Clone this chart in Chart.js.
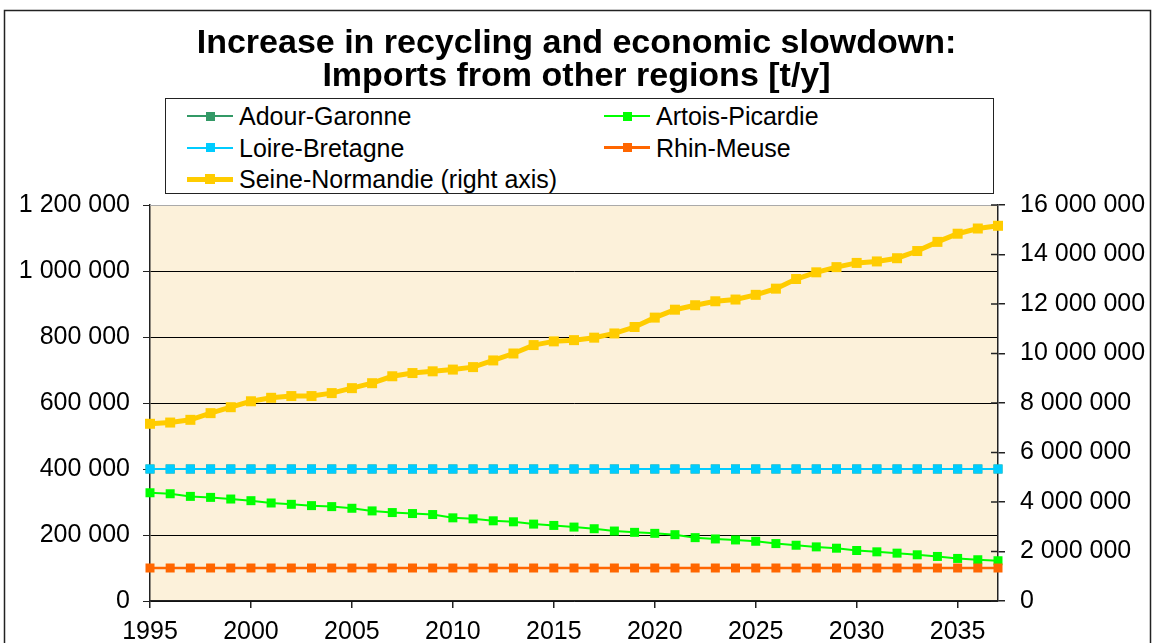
<!DOCTYPE html>
<html>
<head>
<meta charset="utf-8">
<script src="https://cdn.jsdelivr.net/npm/chart.js@4"></script>
<style>
  body { margin: 0; background: #fff; font-family: 'Liberation Sans', Arial, sans-serif; }
  #wrap { position: relative; width: 1153px; height: 643px; overflow: hidden; }
  #title { position: absolute; left: 0; width: 1153px; top: 25px; text-align: center;
           font-weight: bold; font-size: 34px; line-height: 33px; color: #000; }
  #legend { position: absolute; left: 165px; top: 98px; width: 827px; height: 94px;
            border: 1px solid #222; background: #fff; }
  .item { position: absolute; height: 30px; font-size: 25px; line-height: 30px; white-space: nowrap; }
  .sym { position: absolute; top: 15px; width: 46px; }
  .sym .ln { position: absolute; left: 0; width: 46px; }
  .sym .mk { position: absolute; }
  .txt { position: absolute; }
</style>
</head>
<body>
<div id="wrap">
  <canvas id="chart" width="1153" height="643"></canvas>
  <div id="title">Increase in recycling and economic slowdown:<br>Imports from other regions [t/y]</div>
  <div id="legend"></div>
</div>
<script>
const years = [1995, 1996, 1997, 1998, 1999, 2000, 2001, 2002, 2003, 2004,
  2005, 2006, 2007, 2008, 2009, 2010, 2011, 2012, 2013, 2014,
  2015, 2016, 2017, 2018, 2019, 2020, 2021, 2022, 2023, 2024,
  2025, 2026, 2027, 2028, 2029, 2030, 2031, 2032, 2033, 2034,
  2035, 2036, 2037];

const adourGaronne = [400000, 400000, 400000, 400000, 400000, 400000, 400000, 400000, 400000, 400000,
  400000, 400000, 400000, 400000, 400000, 400000, 400000, 400000, 400000, 400000,
  400000, 400000, 400000, 400000, 400000, 400000, 400000, 400000, 400000, 400000,
  400000, 400000, 400000, 400000, 400000, 400000, 400000, 400000, 400000, 400000,
  400000, 400000, 400000];

const artoisPicardie = [328000, 325000, 317000, 314000, 309000, 304000, 297000, 293000, 289000, 286000,
  281000, 273000, 268000, 265000, 262000, 252000, 249000, 243000, 240000, 233000,
  229000, 224000, 219000, 212000, 208000, 205000, 201000, 192000, 188000, 185000,
  181000, 174000, 169000, 164000, 160000, 153000, 149000, 145000, 140000, 135000,
  129000, 125000, 122000];

const loireBretagne = [400000, 400000, 400000, 400000, 400000, 400000, 400000, 400000, 400000, 400000,
  400000, 400000, 400000, 400000, 400000, 400000, 400000, 400000, 400000, 400000,
  400000, 400000, 400000, 400000, 400000, 400000, 400000, 400000, 400000, 400000,
  400000, 400000, 400000, 400000, 400000, 400000, 400000, 400000, 400000, 400000,
  400000, 400000, 400000];

const rhinMeuse = [100000, 100000, 100000, 100000, 100000, 100000, 100000, 100000, 100000, 100000,
  100000, 100000, 100000, 100000, 100000, 100000, 100000, 100000, 100000, 100000,
  100000, 100000, 100000, 100000, 100000, 100000, 100000, 100000, 100000, 100000,
  100000, 100000, 100000, 100000, 100000, 100000, 100000, 100000, 100000, 100000,
  100000, 100000, 100000];

const seineNormandie = [7160000, 7210000, 7320000, 7590000, 7830000, 8070000, 8210000, 8280000, 8280000, 8400000,
  8600000, 8800000, 9080000, 9210000, 9280000, 9350000, 9450000, 9720000, 10000000, 10340000,
  10490000, 10540000, 10640000, 10810000, 11070000, 11450000, 11770000, 11950000, 12110000, 12180000,
  12370000, 12620000, 13010000, 13280000, 13490000, 13660000, 13720000, 13850000, 14140000, 14510000,
  14840000, 15050000, 15160000];

const leftTicks = [0, 200000, 400000, 600000, 800000, 1000000, 1200000];
const rightTicks = [0, 2000000, 4000000, 6000000, 8000000, 10000000, 12000000, 14000000, 16000000];
const yearTicks = [1995, 2000, 2005, 2010, 2015, 2020, 2025, 2030, 2035];

const FONT = "'Liberation Sans', Arial, sans-serif";

function spaced(v) {
  return String(v).replace(/\B(?=(\d{3})+(?!\d))/g, ' ');
}
function pts(vals) {
  return vals.map((v, i) => ({ x: years[i], y: v }));
}
function series(label, vals, color, width, side, order, axis) {
  return {
    label: label, data: pts(vals), yAxisID: axis,
    borderColor: color, backgroundColor: color,
    borderWidth: width, pointStyle: 'rect', pointRadius: side / (2 * Math.SQRT1_2),
    pointBorderWidth: 0, pointHoverRadius: side / (2 * Math.SQRT1_2),
    tension: 0, clip: false, order: order
  };
}

const decor = {
  id: 'decor',
  beforeDraw(chart) {
    const { ctx, chartArea: a } = chart;
    ctx.save();
    ctx.fillStyle = '#fcf1da';
    ctx.fillRect(a.left, a.top, a.right - a.left, a.bottom - a.top);
    ctx.strokeStyle = '#222';
    ctx.lineWidth = 1.5;
    ctx.strokeRect(4.5, 10.5, chart.width - 7, chart.height + 20);
    ctx.restore();
  },
  afterDatasetsDraw(chart) {
    const { ctx, chartArea: a, scales } = chart;
    ctx.save();
    ctx.strokeStyle = '#aaa';
    ctx.lineWidth = 1;
    ctx.beginPath();
    ctx.moveTo(a.left, a.top + 0.5);
    ctx.lineTo(a.right, a.top + 0.5);
    ctx.stroke();
    // right axis ticks cross the axis line
    ctx.strokeStyle = '#222';
    ctx.lineWidth = 1.5;
    rightTicks.forEach(t => {
      const y = scales.y2.getPixelForValue(t);
      ctx.beginPath();
      ctx.moveTo(a.right - 7, y);
      ctx.lineTo(a.right, y);
      ctx.stroke();
    });
    ctx.restore();
  }
};

const chart = new Chart(document.getElementById('chart'), {
  type: 'line',
  data: {
    datasets: [
      series('Adour-Garonne', adourGaronne, '#339966', 2, 9, 5, 'y'),
      series('Artois-Picardie', artoisPicardie, '#00ff00', 2, 9, 4, 'y'),
      series('Loire-Bretagne', loireBretagne, '#00ccff', 2, 9, 3, 'y'),
      series('Rhin-Meuse', rhinMeuse, '#ff6600', 2.5, 9, 2, 'y'),
      series('Seine-Normandie (right axis)', seineNormandie, '#ffcc00', 5, 10, 1, 'y2')
    ]
  },
  options: {
    responsive: false,
    animation: false,
    devicePixelRatio: 1,
    layout: { padding: { top: 205, left: 0, right: 0, bottom: 0 } },
    plugins: { legend: { display: false }, title: { display: false }, tooltip: { enabled: false } },
    scales: {
      x: {
        type: 'linear', min: 1995, max: 2037,
        afterBuildTicks: s => { s.ticks = yearTicks.map(v => ({ value: v })); },
        afterFit: s => { s.height = 42; },
        grid: { drawOnChartArea: false, color: '#222', tickLength: 7, lineWidth: 1.5 },
        border: { color: '#222', width: 1.5 },
        ticks: { color: '#000', font: { family: FONT, size: 25 }, padding: 9, maxRotation: 0,
                 callback: v => String(v) }
      },
      y: {
        position: 'left', min: 0, max: 1200000,
        afterBuildTicks: s => { s.ticks = leftTicks.map(v => ({ value: v })); },
        afterFit: s => { s.width = 150; },
        grid: { color: c => c.tick && c.tick.value === 1200000 ? '#aaa' : '#000', tickColor: '#222', tickLength: 7, lineWidth: 1 },
        border: { color: '#222', width: 1.5 },
        ticks: { color: '#000', font: { family: FONT, size: 25 }, padding: 13, callback: v => spaced(v) }
      },
      y2: {
        position: 'right', min: 0, max: 16000000,
        afterBuildTicks: s => { s.ticks = rightTicks.map(v => ({ value: v })); },
        afterFit: s => { s.width = 155; },
        grid: { drawOnChartArea: false, color: '#222', tickLength: 7, lineWidth: 1.5 },
        border: { color: '#222', width: 1.5 },
        ticks: { color: '#000', font: { family: FONT, size: 25 }, padding: 15, callback: v => spaced(v) }
      }
    }
  },
  plugins: [decor]
});

// legend in two columns, built from the chart's datasets
const legend = document.getElementById('legend');
const cols = [21, 438];
chart.data.datasets.forEach((ds, i) => {
  const item = document.createElement('div');
  item.className = 'item';
  item.style.left = cols[i % 2] + 'px';
  item.style.top = (2 + Math.floor(i / 2) * 31.5) + 'px';
  const lw = ds.borderWidth;
  const side = ds.pointRadius * 2 * Math.SQRT1_2;
  item.innerHTML =
    '<div class="sym"><div class="ln" style="top:' + (-lw / 2) + 'px;height:' + lw + 'px;background:' + ds.borderColor + '"></div>' +
    '<div class="mk" style="left:' + (23 - side / 2) + 'px;top:' + (-side / 2) + 'px;width:' + side + 'px;height:' + side + 'px;background:' + ds.backgroundColor + '"></div></div>' +
    '<span class="txt" style="left:52px">' + ds.label + '</span>';
  legend.appendChild(item);
});
</script>
</body>
</html>
